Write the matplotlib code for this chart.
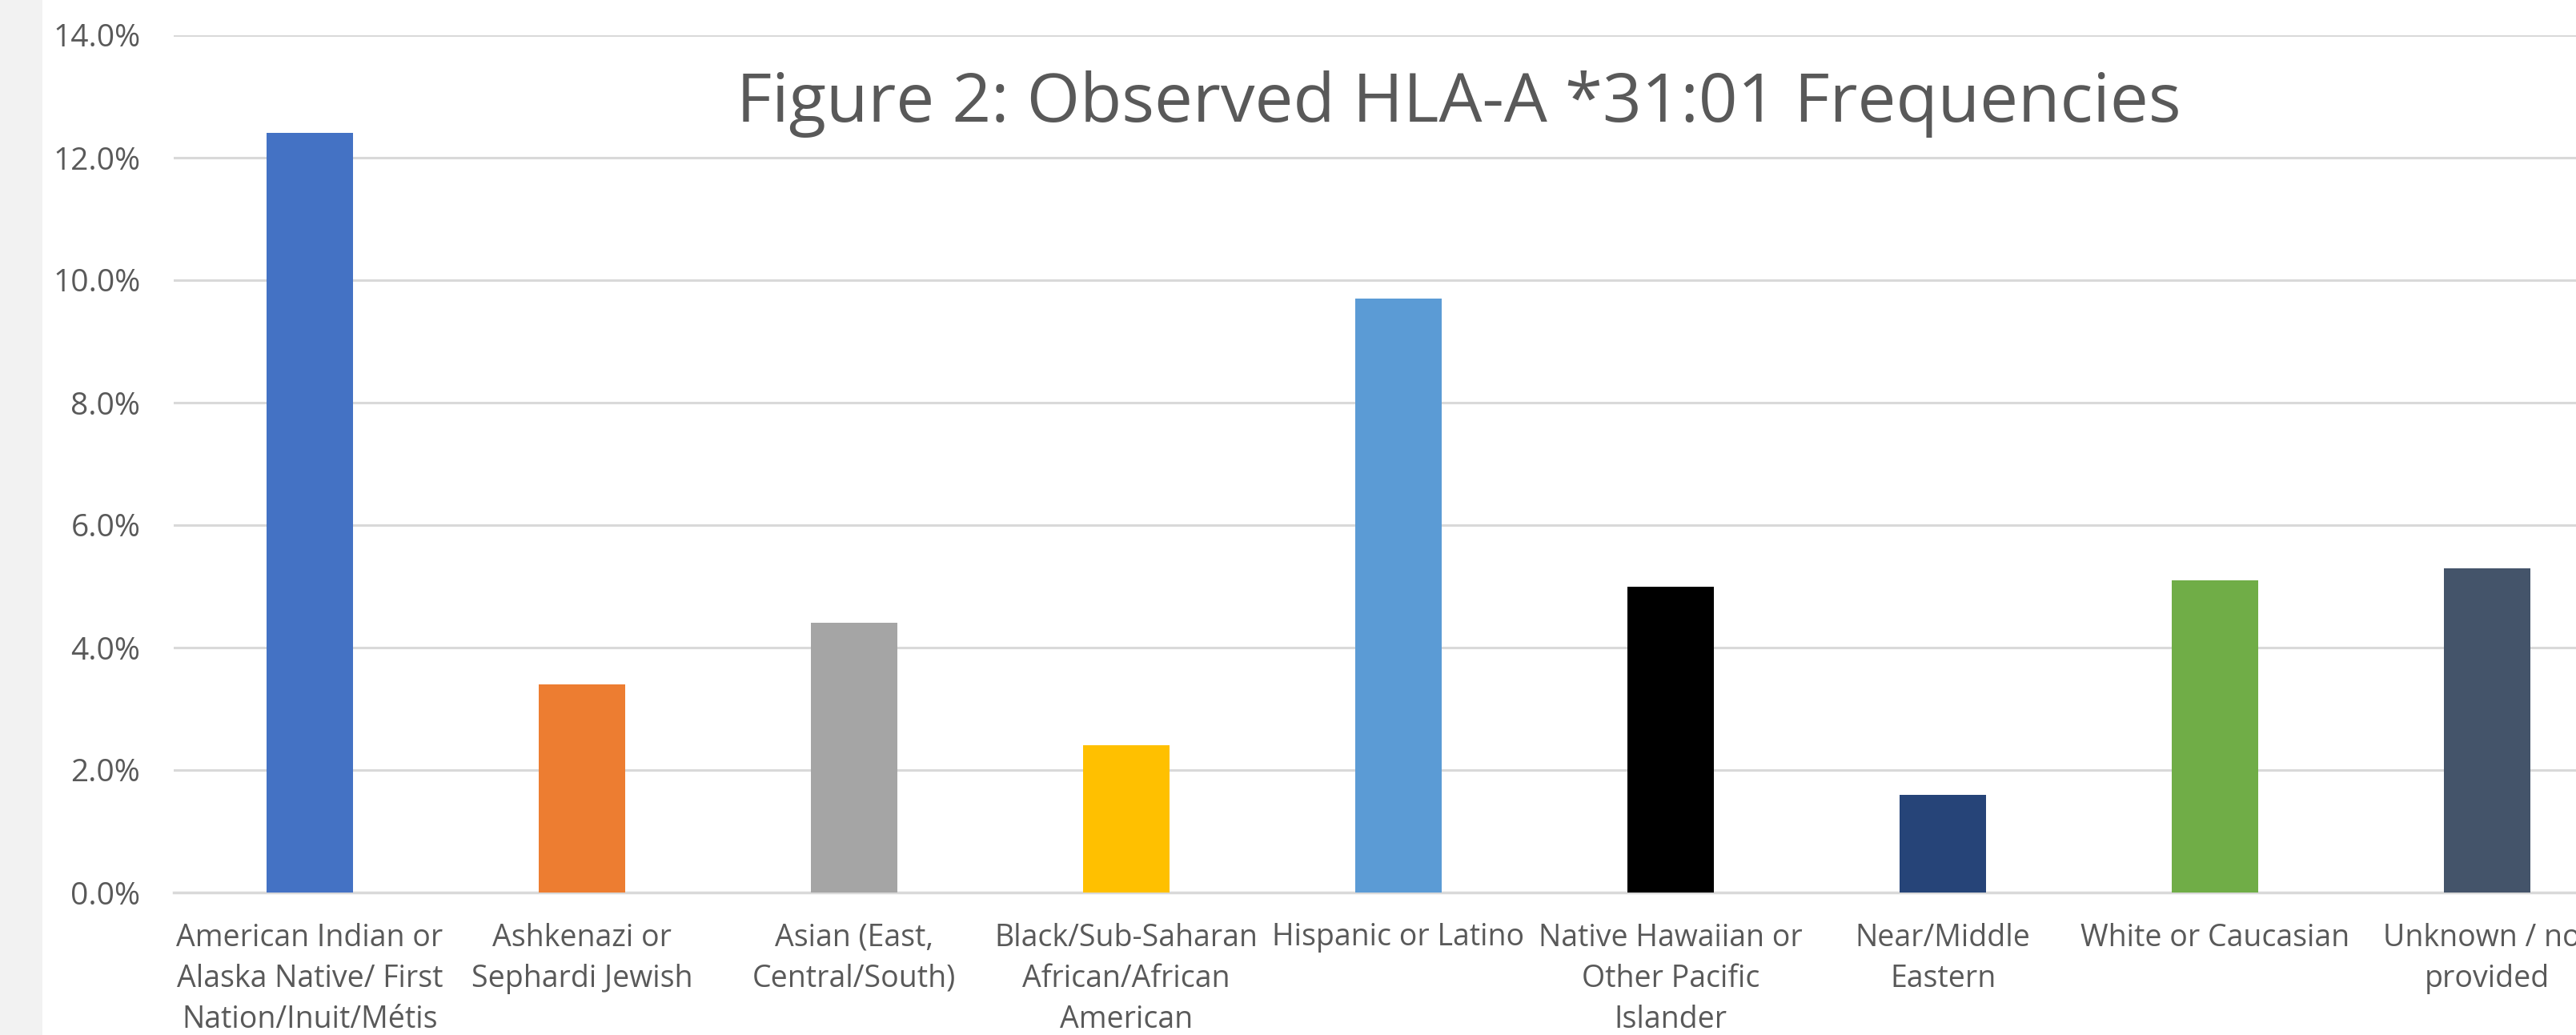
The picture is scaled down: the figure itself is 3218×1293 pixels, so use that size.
import matplotlib
matplotlib.use("Agg")
import matplotlib.pyplot as plt
from matplotlib.patches import Rectangle
from matplotlib.ticker import FuncFormatter, MultipleLocator

categories = [
    "American Indian or\nAlaska Native/ First\nNation/Inuit/Métis",
    "Ashkenazi or\nSephardi Jewish",
    "Asian (East,\nCentral/South)",
    "Black/Sub-Saharan\nAfrican/African\nAmerican",
    "Hispanic or Latino",
    "Native Hawaiian or\nOther Pacific\nIslander",
    "Near/Middle\nEastern",
    "White or Caucasian",
    "Unknown / not\nprovided",
]
values = [12.4, 3.4, 4.4, 2.4, 9.7, 5.0, 1.6, 5.1, 5.3]
colors = ["#4472C4", "#ED7D31", "#A5A5A5", "#FFC000", "#5B9BD5",
          "#000000", "#264478", "#70AD47", "#44546A"]
title = "Figure 2: Observed HLA-A *31:01 Frequencies"

plt.rcParams['font.family'] = ['Open Sans', 'DejaVu Sans']

W, H = 3218, 1293
dpi = 100
fig = plt.figure(figsize=(W / dpi, H / dpi), dpi=dpi, facecolor="white")
fig.patches.append(Rectangle((0, 0), 53 / W, 1, transform=fig.transFigure,
                             facecolor="#F2F2F2", edgecolor="none", zorder=0))

left, right = 217, 3277
top, bottom = 44, 1115
ax = fig.add_axes([left / W, 1 - bottom / H, (right - left) / W, (bottom - top) / H])
ax.set_facecolor("none")

x = list(range(len(categories)))
ax.bar(x, values, width=0.315, color=colors, zorder=3)
ax.set_xlim(-0.5, len(categories) - 0.5)
ax.set_ylim(0, 14)
ax.yaxis.set_major_locator(MultipleLocator(2))
ax.yaxis.set_major_formatter(FuncFormatter(lambda v, p: f"{v:.1f}%"))
ax.grid(axis="y", color="#D9D9D9", linewidth=2.2, zorder=0)
ax.set_axisbelow(True)
for s in ["top", "right", "left"]:
    ax.spines[s].set_visible(False)
ax.spines["bottom"].set_color("#D9D9D9")
ax.spines["bottom"].set_linewidth(2.5)
ax.tick_params(axis="y", length=0, colors="#595959", labelsize=28, pad=30)
ax.tick_params(axis="x", length=0, colors="#595959", labelsize=27, pad=27)
ax.set_xticks(x)
ax.set_xticklabels(categories, linespacing=1.45)

fig.text(1822 / W, 1 - 152 / H, title, ha="center", va="baseline",
         fontsize=61.5, color="#595959")

fig.savefig("out.png", dpi=dpi, facecolor="white")
